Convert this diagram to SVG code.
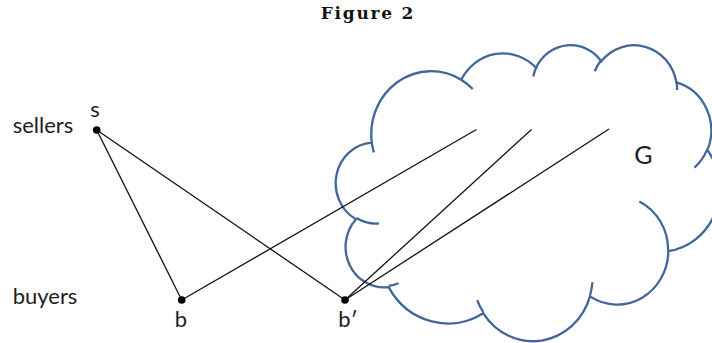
<svg xmlns="http://www.w3.org/2000/svg" width="712" height="343" viewBox="0 0 712 343">
  <style>
    .lbl { font-family: Lato, "Open Sans", "Liberation Sans", sans-serif; font-size: 22px; fill: #1e1e1e; }
    .big { font-size: 25px; }
    .title { font-family: "DejaVu Serif", "Liberation Serif", serif; font-weight: bold; font-size: 17px; fill: #111; }
    .edge { stroke: #111; stroke-width: 1.3; fill: none; }
    .dot { fill: #000; }
    .cloud { fill: none; stroke: #41679A; stroke-width: 2.3; vector-effect: non-scaling-stroke; }
  </style>
  <rect width="712" height="343" fill="#fff"/>
  <text class="title" x="320.7" y="19" textLength="92.6" lengthAdjust="spacing">Figure 2</text>

  <g id="node-G">
    <g transform="translate(337.3,44.2) scale(0.00885,0.00685)">
      <path class="cloud" d="M3900,14370 A6753,9190 0 0 1 14004.6,5201.8 A5333,7267 0 0 1 22456.2,3433.2 A4365,5945 0 0 1 29833.4,2483.6 A4857,6595 0 0 1 38317.9,5580 A5333,7273 0 0 1 41818.5,15463.7 A6775,9220 0 0 1 37403.5,30205 A5785,7867 0 0 1 28555.1,36815.2 A6752,9215 0 0 1 16479.6,39266.4 A7720,10543 0 0 1 5802.8,35470.2 A4360,5918 0 0 1 2113.5,25545.7 A4345,5945 0 0 1 3900,14370 Z"/>
      <path class="cloud" d="M4693,26177 A4345,5945 0 0 1 2159,25379.3 M6928,34899 A4360,5918 0 0 1 5819.3,35280.6 M16478,39090 A6752,9215 0 0 1 15809.7,37348.1 M28827,34751 A6752,9215 0 0 1 28560.4,36660.1 M34129,22954 A5785,7867 0 0 1 37380.5,30089.7 M41798,15354 A5333,7273 0 0 1 40349.1,18031.2 M38324,5426 A4857,6595 0 0 1 38400.4,6689.5 M29078,3952 A4857,6595 0 0 1 29820.7,2338.3 M22141,4720 A4365,5945 0 0 1 22555.2,3185 M14000,5192 A6753,9190 0 0 1 15301.1,6541.9 M4127,15789 A6753,9190 0 0 1 3900,14369.7"/>
    </g>
    <text class="lbl big" x="643.3" y="163.5" text-anchor="middle">G</text>
  </g>

  <g id="connectors">
    <line class="edge" x1="96.7" y1="130" x2="181.7" y2="300"/>
    <line class="edge" x1="96.7" y1="130" x2="345" y2="300"/>
    <line class="edge" x1="181.7" y1="300" x2="476.5" y2="129.5"/>
    <line class="edge" x1="345" y1="300" x2="531.5" y2="129.5"/>
    <line class="edge" x1="345" y1="300" x2="609" y2="129"/>
  </g>

  <g id="row-labels">
    <text class="lbl" x="12.7" y="133.3">sellers</text>
    <text class="lbl" x="12.7" y="304">buyers</text>
  </g>

  <g id="node-s">
    <circle class="dot" cx="96.7" cy="130" r="3.8"/>
    <text class="lbl" x="95" y="116.5" text-anchor="middle">s</text>
  </g>
  <g id="node-b">
    <circle class="dot" cx="181.7" cy="300" r="3.8"/>
    <text class="lbl" x="181" y="326.7" text-anchor="middle">b</text>
  </g>
  <g id="node-bprime">
    <circle class="dot" cx="345" cy="300" r="3.8"/>
    <text class="lbl" x="338.3" y="326.7">b′</text>
  </g>
</svg>
